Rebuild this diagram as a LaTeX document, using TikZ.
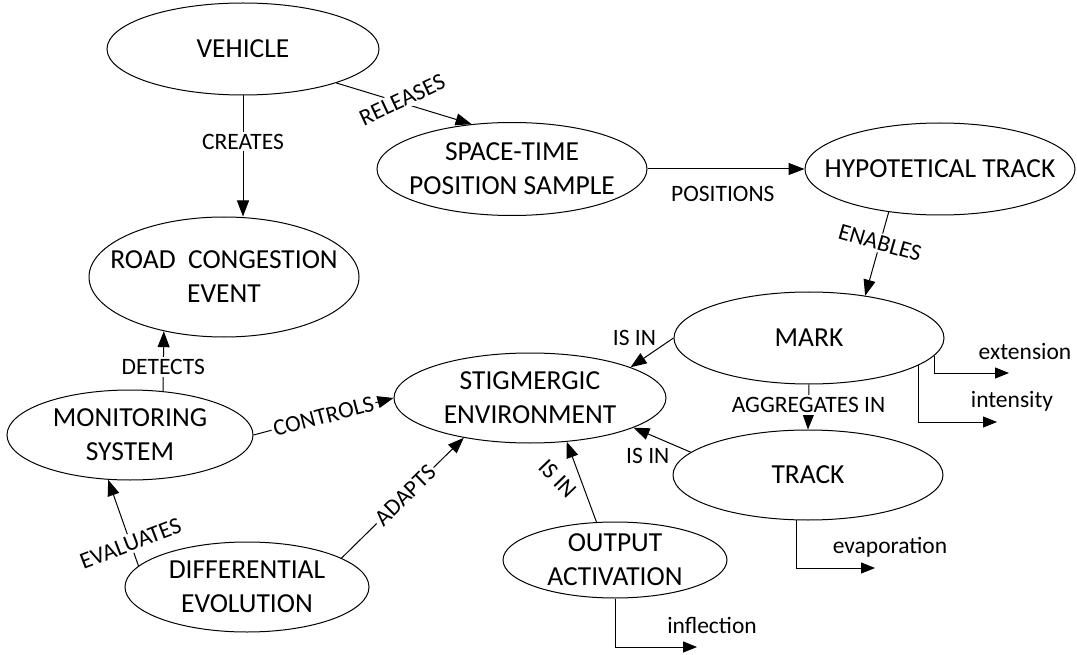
\documentclass[tikz,border=0pt]{standalone}
\usepackage{fontspec}
\setmainfont{Carlito}
\usetikzlibrary{shapes.geometric,arrows.meta}

\begin{document}
\begin{tikzpicture}[x=1pt,y=-1pt,
ell/.style={ellipse, draw, line width=1pt, inner sep=0pt},
ttl/.style={font=\fontsize{27.5}{34}\selectfont, align=center},
lbl/.style={font=\fontsize{23.5}{28}\selectfont, inner sep=2pt},
arr/.style={line width=1pt, -{Triangle[length=16pt,width=12pt]}},
tip/.style={line width=.8pt, -{Triangle[length=14pt,width=11pt]}}]
\useasboundingbox (0,0) rectangle (1077,655);
\node[ell, minimum width=272pt, minimum height=92pt, label={[ttl]center:VEHICLE}] (veh) at (243,49){};
\node[ell, minimum width=270pt, minimum height=120pt, label={[ttl]center:ROAD~~CONGESTION\\EVENT}] (road) at (224,277){};
\node[ell, minimum width=270pt, minimum height=93pt, label={[ttl]center:SPACE-TIME\\POSITION SAMPLE}] (stp) at (512,169){};
\node[ell, minimum width=270pt, minimum height=92pt, label={[ttl]center:HYPOTETICAL TRACK}] (hyp) at (940,169){};
\node[ell, minimum width=270pt, minimum height=92pt, label={[ttl]center:MARK}] (mark) at (809,338){};
\node[ell, minimum width=272pt, minimum height=90pt, label={[ttl]center:STIGMERGIC\\ENVIRONMENT}] (stig) at (530,398){};
\node[ell, minimum width=270pt, minimum height=90pt, label={[ttl]center:TRACK}] (track) at (808,475){};
\node[ell, minimum width=246pt, minimum height=90pt, label={[ttl]center:MONITORING\\SYSTEM}] (mon) at (130,435){};
\node[ell, minimum width=244pt, minimum height=90pt, label={[ttl]center:DIFFERENTIAL\\EVOLUTION}] (diff) at (247,587){};
\node[ell, minimum width=224pt, minimum height=76pt, label={[ttl]center:OUTPUT\\ACTIVATION}] (out) at (615,560){};

\draw[arr](veh.south) -- node[lbl, fill=white, pos=.38]{CREATES} (veh.south |- road.north);
\draw[arr](veh.-20) -- node[lbl, fill=white, pos=.5, rotate=25, yshift=4pt]{RELEASES} (stp.132);
\draw[arr](stp.east) -- node[lbl, below=15pt, pos=.48]{POSITIONS} (hyp.west);
\draw[arr](hyp.-140) -- node[lbl, fill=white, pos=.37, rotate=-16]{ENABLES} (mark.37);
\draw[arr](mark.west) -- node[lbl, pos=.35, above left=0pt]{IS IN} (stig.17);
\draw[arr](mark.south) -- node[lbl, fill=white, pos=.46]{AGGREGATES IN} (track.north);
\draw[arr](track.169) -- node[lbl, pos=.75, below=12pt]{IS IN} (stig.-16);
\draw[arr](out.116) -- node[lbl, pos=.54, xshift=-23pt, rotate=-46]{IS IN} (stig.-50);
\draw[arr](mon.53) -- node[lbl, fill=white, pos=.4]{DETECTS} (road.-138);
\draw[arr](mon.east) -- node[lbl, fill=white, pos=.5, sloped]{CONTROLS} (stig.west);
\draw[arr](diff.169) -- node[lbl, fill=white, pos=.26, rotate=21]{EVALUATES} (mon.-116);
\draw[arr](diff.17) -- node[lbl, fill=white, pos=.52, sloped]{ADAPTS} (stig.-149);

\coordinate (extE) at (1009,373);
\coordinate (intE) at (997,422);
\coordinate (evaE) at (875,568);
\coordinate (infE) at (697,647);
\node[lbl] (extT) at (1025,352){extension};
\node[lbl] (intT) at (1012,401){intensity};
\node[lbl] (evaT) at (890,547){evaporation};
\node[lbl] (infT) at (712,625){inflection};
\draw[tip](mark.-8) |- (extE);
\draw[tip](mark.-14) |- (intE);
\draw[tip](track.-104) |- (evaE);
\draw[tip](out.south) |- (infE);

\end{tikzpicture}
\end{document}
